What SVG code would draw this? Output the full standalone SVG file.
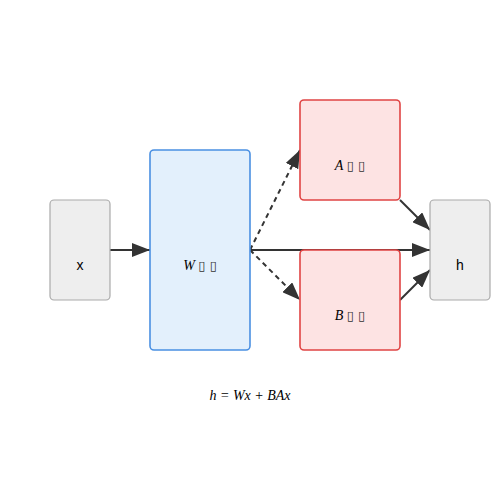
<svg xmlns="http://www.w3.org/2000/svg" width="500" height="500" viewBox="0 0 500 500">
<style>
.gray{fill:#eeeeee;stroke:#aaaaaa;stroke-width:1.2}
.blue{fill:#e3f0fc;stroke:#4a90e2;stroke-width:1.6}
.red{fill:#fde3e3;stroke:#e04444;stroke-width:1.6}
.sans{font-family:"Liberation Sans",Arial,sans-serif;font-size:14px;fill:#000;text-anchor:middle}
.math{font-family:"Liberation Serif","DejaVu Serif",serif;font-style:italic;font-size:14px;fill:#000;text-anchor:middle}
.tofu{font-family:"DejaVu Sans",sans-serif;font-style:normal;font-size:13px;fill:#333}
.c{stroke:#333333;stroke-width:2;fill:none}
.d{stroke-dasharray:5,4}
</style>
<defs>
<marker id="arr" viewBox="0 0 18 14" refX="18" refY="7" markerWidth="18" markerHeight="14" markerUnits="userSpaceOnUse" orient="auto">
<path d="M0,0 L18,7 L0,14 z" fill="#333333"/>
</marker>
</defs>
<g id="connectors">
<line class="c" x1="110" y1="250" x2="150" y2="250" marker-end="url(#arr)"/>
<line class="c" x1="250" y1="250" x2="430" y2="250" marker-end="url(#arr)"/>
<line class="c d" x1="250" y1="250" x2="300" y2="150" marker-end="url(#arr)"/>
<line class="c d" x1="250" y1="250" x2="300" y2="300" marker-end="url(#arr)"/>
<line class="c" x1="400" y1="200" x2="430" y2="230" marker-end="url(#arr)"/>
<line class="c" x1="400" y1="300" x2="430" y2="270" marker-end="url(#arr)"/>
</g>
<g id="node-x">
<rect class="gray" x="50" y="200" width="60" height="100" rx="4"/>
<text class="sans" x="80" y="270">x</text>
</g>
<g id="node-W">
<rect class="blue" x="150" y="150" width="100" height="200" rx="4"/>
<text class="math" x="200" y="270">W <tspan class="tofu">▯ ▯</tspan></text>
</g>
<g id="node-A">
<rect class="red" x="300" y="100" width="100" height="100" rx="4"/>
<text class="math" x="350" y="170">A <tspan class="tofu">▯ ▯</tspan></text>
</g>
<g id="node-B">
<rect class="red" x="300" y="250" width="100" height="100" rx="4"/>
<text class="math" x="350" y="320">B <tspan class="tofu">▯ ▯</tspan></text>
</g>
<g id="node-h">
<rect class="gray" x="430" y="200" width="60" height="100" rx="4"/>
<text class="sans" x="460" y="270">h</text>
</g>
<text class="math" x="250" y="400">h = Wx + BAx</text>
</svg>
